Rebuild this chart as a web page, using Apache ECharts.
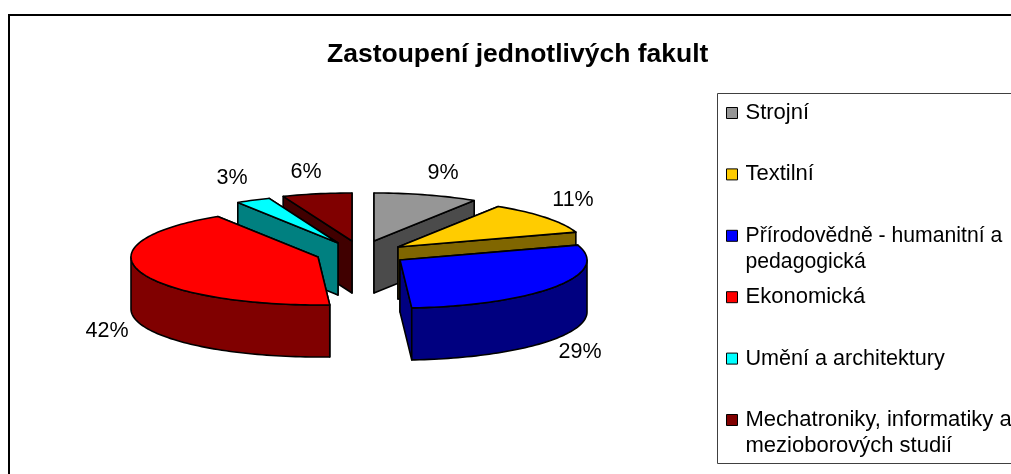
<!DOCTYPE html>
<html><head><meta charset="utf-8">
<style>html,body{margin:0;padding:0;background:#fff}#c{width:1011px;height:474px}</style>
<script src="https://cdn.jsdelivr.net/npm/echarts@6/dist/echarts.min.js"></script>
</head><body><div id="c"></div>
<script>
const categories = ['Strojní','Textilní','Přírodovědně - humanitní a\npedagogická','Ekonomická','Umění a architektury','Mechatroniky, informatiky a\nmezioborových studií'];
const values = [9,11,29,42,3,6];
const topColors = ['#969696','#FFCC00','#0000FF','#FF0000','#00FFFF','#800000'];
const sideColors = ['#4B4B4B','#806600','#000080','#800000','#008080','#400000'];

// layout of the exploded 3D projection (not data)
const RX = 187, RY = 48, DEPTH = 52;
const sliceCentres = [[374,241],[398,247],[400,260],[318,257],[338,243],[352,241]];
const labelPos = [[443,173],[573,200],[580,352],[107,331],[232,178],[306,172]];
const drawZ = [2,3,4,4,3,2];
const legendFontSizes = [22,22,21.2,22,21.6,22];

const total = values.reduce((a,b)=>a+b,0);
function sliceAngles(i){
  let s = 0; for(let k=0;k<i;k++) s += values[k];
  return [s/total*360, (s+values[i])/total*360];
}
function pt(c,deg,dy){
  const r = deg*Math.PI/180;
  return [c[0]+RX*Math.sin(r), c[1]-RY*Math.cos(r)+(dy||0)];
}
function poly(points,fill){
  return {type:'polygon',shape:{points:points},
    style:{fill:fill,stroke:'#000',lineWidth:1.6,lineJoin:'round'}};
}
function renderSlice(i){
  return function(){
    const [a0,a1] = sliceAngles(i);
    const c = sliceCentres[i];
    const side = sideColors[i];
    const kids = [];
    const cb = [c[0],c[1]+DEPTH];
    const edges = [a0,a1].sort((p,q)=>pt(c,p)[1]-pt(c,q)[1]);
    edges.forEach(a=>kids.push(poly([c,pt(c,a),pt(c,a,DEPTH),cb],side)));
    const r0 = Math.max(a0,90), r1 = Math.min(a1,270);
    if(r1>r0){
      const upper=[],lower=[];
      for(let d=r0;;d+=1.5){
        const q=Math.min(d,r1);
        upper.push(pt(c,q)); lower.unshift(pt(c,q,DEPTH));
        if(q>=r1)break;
      }
      kids.push(poly(upper.concat(lower),side));
    }
    const top=[c];
    for(let d=a0;;d+=1.5){
      const q=Math.min(d,a1);
      top.push(pt(c,q));
      if(q>=a1)break;
    }
    kids.push(poly(top,topColors[i]));
    kids.push({type:'text',z2:50,style:{text:values[i]+'%',x:labelPos[i][0],y:labelPos[i][1],
      align:'center',verticalAlign:'middle',fill:'#000',font:'21.5px "Liberation Sans", Arial, sans-serif'}});
    return {type:'group',children:kids};
  };
}
const legendLabels = categories.map(n=>n.indexOf('\n')>=0?' \n'+n:' \n'+n+'\n ');
const series = categories.map((n,i)=>({
  type:'custom',name:legendLabels[i],coordinateSystem:'none',z:drawZ[i],silent:true,
  data:[[values[i]]],renderItem:renderSlice(i),
  itemStyle:{color:topColors[i]}
}));
const legendText = {fontFamily:'"Liberation Sans", Arial, sans-serif',lineHeight:26,color:'#000',padding:[0,0,0,3]};
const chart = echarts.init(document.getElementById('c'),null,{renderer:'canvas'});
chart.setOption({
  animation:false,
  backgroundColor:'#fff',
  title:{text:'Zastoupení jednotlivých fakult',left:327,top:41,padding:0,
    textStyle:{fontFamily:'"Liberation Sans", Arial, sans-serif',fontWeight:'bold',fontSize:26.5,color:'#000'}},
  graphic:[
    {type:'rect',z:-1,shape:{x:9,y:15,width:1200,height:700},style:{fill:'#fff',stroke:'#000',lineWidth:2}},
    {type:'rect',z:-1,shape:{x:717.5,y:93.5,width:500,height:370},style:{fill:'#fff',stroke:'#404040',lineWidth:1}}
  ],
  legend:{
    orient:'vertical',left:726,top:74,padding:0,itemWidth:11,itemHeight:11,itemGap:-16.6,
    icon:'rect',selectedMode:false,
    itemStyle:{borderColor:'#000',borderWidth:1},
    textStyle:Object.assign({fontSize:22},legendText),
    data:legendLabels.map((name,i)=>({name:name,textStyle:Object.assign({fontSize:legendFontSizes[i]},legendText)}))
  },
  series:series
});
</script></body></html>
